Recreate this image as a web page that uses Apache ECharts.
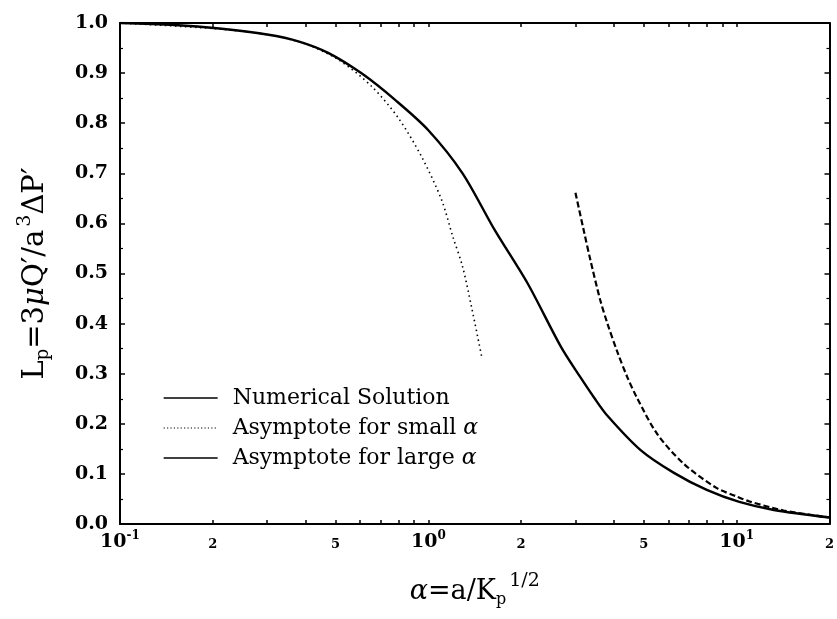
<!DOCTYPE html>
<html>
<head>
<meta charset="utf-8">
<script src="https://cdn.jsdelivr.net/npm/echarts@6/dist/echarts.min.js"></script>
<style>
  html, body { margin: 0; padding: 0; background: #fff; }
  #chart { width: 837px; height: 619px; }
</style>
</head>
<body>
<div id="chart"></div>
<script>
// Numerical solution L_p(α)
const numAlpha = [0.1, 0.15, 0.21, 0.3, 0.381, 0.475, 0.609, 0.782, 1.0, 1.291, 1.641, 2.10, 2.69, 3.12, 3.45, 3.81, 4.87, 6.26, 8.0, 10.2, 13.2, 20];
const numL     = [1.0, 0.996, 0.989, 0.977, 0.963, 0.940, 0.899, 0.846, 0.786, 0.700, 0.587, 0.480, 0.354, 0.292, 0.252, 0.216, 0.148, 0.102, 0.068, 0.044, 0.028, 0.013];

// Small-α asymptote
const smallAlpha = [0.1, 0.2, 0.3, 0.4, 0.513, 0.656, 0.8, 0.951, 1.104, 1.2, 1.291, 1.38, 1.493];
const smallL     = [1.0, 0.989, 0.977, 0.958, 0.926, 0.873, 0.810, 0.733, 0.647, 0.574, 0.514, 0.434, 0.331];

// Large-α asymptote
const largeAlpha = [3.0, 3.2, 3.36, 3.61, 3.81, 4.1, 4.42, 4.75, 5.52, 6.74, 8.6, 10.0, 11.0, 14.2, 20];
const largeL     = [0.661, 0.583, 0.525, 0.447, 0.400, 0.344, 0.293, 0.252, 0.180, 0.120, 0.072, 0.055, 0.045, 0.027, 0.013];

// Axis ticks
const xLabelValues = [0.1, 0.2, 0.5, 1, 2, 5, 10, 20];
const xTickValues = [0.1, 0.2, 0.3, 0.4, 0.5, 0.6, 0.7, 0.8, 0.9, 1, 2, 3, 4, 5, 6, 7, 8, 9, 10, 20];

const seriesNames = ['Numerical Solution', 'Asymptote for small α', 'Asymptote for large α'];

const SERIF = '"DejaVu Serif", "Liberation Serif", serif';

function pairs(xs, ys) { return xs.map((x, i) => [x, ys[i]]); }

function xLabel(v) {
  const e = Math.round(Math.log10(v));
  if (Math.abs(v - Math.pow(10, e)) < 1e-9) {
    return '{b|10}{sup|' + (e < 0 ? '-' + (-e) : e) + '}';
  }
  return '{s|' + Math.round(v / Math.pow(10, Math.floor(Math.log10(v) + 1e-9))) + '}';
}

const chart = echarts.init(document.getElementById('chart'), null, { renderer: 'canvas' });

const axisLineStyle = { color: '#000', width: 2 };
const hiddenSymbol = { opacity: 0 };

chart.setOption({
  backgroundColor: '#fff',
  animation: false,
  grid: { left: 120, right: 4, top: 23, bottom: 95, containLabel: false },
  legend: {
    orient: 'vertical',
    left: 158,
    top: 382,
    itemWidth: 54,
    itemHeight: 14,
    itemGap: 8,
    data: [
      { name: seriesNames[0], itemStyle: hiddenSymbol, lineStyle: { type: 'solid', width: 1.3 } },
      { name: seriesNames[1], itemStyle: hiddenSymbol, lineStyle: { type: [1.2, 2.2], width: 1.2 } },
      { name: seriesNames[2], itemStyle: hiddenSymbol, lineStyle: { type: 'solid', width: 1.3 } }
    ],
    formatter: name => name.replace('α', '{i|α}'),
    textStyle: {
      fontFamily: SERIF, fontSize: 22, color: '#000', padding: [0, 0, 0, 10],
      rich: {
        i: { fontFamily: SERIF, fontSize: 22, fontStyle: 'italic', color: '#000' }
      }
    }
  },
  xAxis: [
    {
      type: 'log', logBase: 10, min: 0.1, max: 20, position: 'bottom',
      name: '{i|α}{n|=a/K}{sub|p}{sup|1/2}',
      nameLocation: 'middle', nameGap: 48,
      nameTextStyle: {
        rich: {
          i: { fontFamily: SERIF, fontSize: 27, fontStyle: 'italic', color: '#000' },
          n: { fontFamily: SERIF, fontSize: 27, color: '#000' },
          sub: { fontFamily: SERIF, fontSize: 16, color: '#000', padding: [16, 0, 0, 0] },
          sup: { fontFamily: SERIF, fontSize: 19, color: '#000', padding: [0, 0, 20, 3] }
        }
      },
      axisLine: { show: true, onZero: false, lineStyle: axisLineStyle },
      axisTick: { show: true, inside: true, length: 4, customValues: xTickValues, lineStyle: { color: '#000', width: 1.5 } },
      minorTick: { show: false },
      splitLine: { show: false },
      axisLabel: {
        customValues: xLabelValues,
        formatter: xLabel,
        margin: 6,
        rich: {
          b: { fontFamily: SERIF, fontSize: 19, fontWeight: 'bold', color: '#000' },
          sup: { fontFamily: SERIF, fontSize: 12, fontWeight: 'bold', color: '#000', padding: [0, 0, 12, 0] },
          s: { fontFamily: SERIF, fontSize: 13, fontWeight: 'bold', color: '#000', padding: [8, 0, 0, 0] }
        }
      }
    },
    {
      type: 'log', logBase: 10, min: 0.1, max: 20, position: 'top',
      axisLine: { show: true, onZero: false, lineStyle: axisLineStyle },
      axisTick: { show: true, inside: true, length: 4, customValues: xTickValues, lineStyle: { color: '#000', width: 1.5 } },
      axisLabel: { show: false },
      splitLine: { show: false }
    }
  ],
  yAxis: [
    {
      type: 'value', min: 0, max: 1, interval: 0.1, position: 'left',
      name: '{n|L}{sub|p}{n|=3}{i|μ}{n|Q′/a}{sup|3}{n|ΔP′}',
      nameLocation: 'middle', nameGap: 65, nameRotate: 90,
      nameTextStyle: {
        rich: {
          i: { fontFamily: SERIF, fontSize: 29, fontStyle: 'italic', color: '#000' },
          n: { fontFamily: SERIF, fontSize: 29, color: '#000' },
          sub: { fontFamily: SERIF, fontSize: 18, color: '#000', padding: [16, 0, 0, 0] },
          sup: { fontFamily: SERIF, fontSize: 19, color: '#000', padding: [0, 0, 20, 3] }
        }
      },
      axisLine: { show: true, lineStyle: axisLineStyle },
      axisTick: { show: true, inside: true, length: 5, lineStyle: { color: '#000', width: 1.5 } },
      minorTick: { show: true, splitNumber: 2, length: 3, lineStyle: { color: '#000', width: 1.2 } },
      splitLine: { show: false },
      axisLabel: {
        margin: 12,
        fontFamily: SERIF, fontSize: 19, fontWeight: 'bold', color: '#000',
        formatter: v => v.toFixed(1)
      }
    },
    {
      type: 'value', min: 0, max: 1, interval: 0.1, position: 'right',
      axisLine: { show: true, lineStyle: axisLineStyle },
      axisTick: { show: true, inside: true, length: 5, lineStyle: { color: '#000', width: 1.5 } },
      minorTick: { show: true, splitNumber: 2, length: 3, lineStyle: { color: '#000', width: 1.2 } },
      splitLine: { show: false },
      axisLabel: { show: false }
    }
  ],
  series: [
    {
      name: seriesNames[0], type: 'line', symbol: 'none', smooth: 0.3,
      data: pairs(numAlpha, numL),
      lineStyle: { color: '#000', width: 2.4 }, itemStyle: { color: '#000' }
    },
    {
      name: seriesNames[1], type: 'line', symbol: 'none', smooth: 0.3,
      data: pairs(smallAlpha, smallL),
      lineStyle: { color: '#000', width: 1.6, type: [1.5, 3.5] }, itemStyle: { color: '#000' }
    },
    {
      name: seriesNames[2], type: 'line', symbol: 'none', smooth: 0.3,
      data: pairs(largeAlpha, largeL),
      lineStyle: { color: '#000', width: 2.2, type: [6, 3] }, itemStyle: { color: '#000' }
    }
  ]
});
</script>
</body>
</html>
